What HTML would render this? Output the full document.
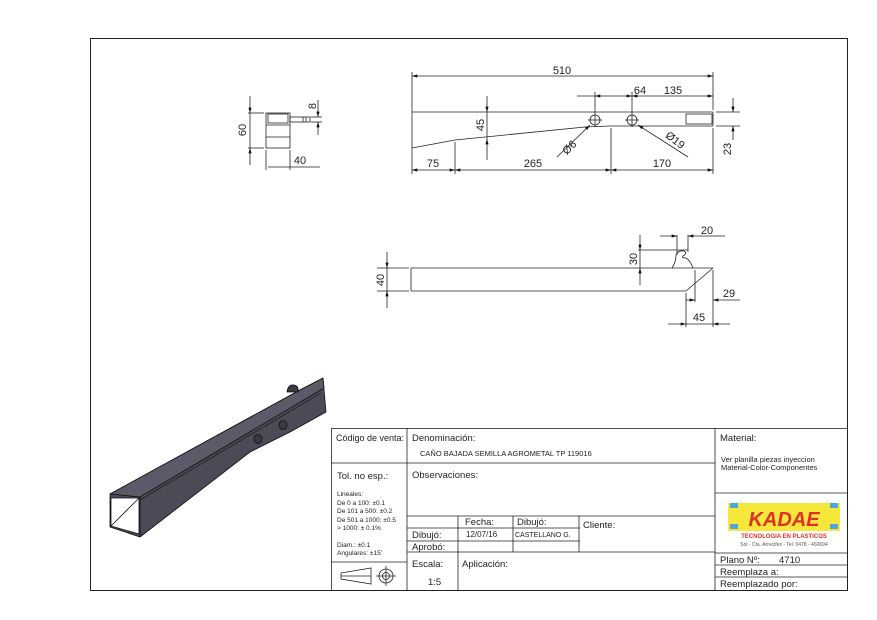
<!DOCTYPE html>
<html><head><meta charset="utf-8"><style>
body{margin:0;background:#fff}
svg{display:block}
text{font-family:"Liberation Sans",sans-serif;fill:#222}
</style></head><body>
<svg width="877" height="620" viewBox="0 0 877 620" xmlns="http://www.w3.org/2000/svg">
<defs>
<marker id="a" viewBox="0 0 10 6" refX="10" refY="3" markerWidth="7" markerHeight="4" orient="auto-start-reverse"><path d="M0,0L10,3L0,6z" fill="#111"/></marker>
</defs>
<rect x="0" y="0" width="877" height="620" fill="#fff"/>
<rect x="90.5" y="38.5" width="757" height="552" fill="none" stroke="#222" stroke-width="1"/>

<g stroke="#222" stroke-width="0.8" fill="none">
<rect x="266" y="113" width="24" height="35"/>
<rect x="268" y="114" width="20" height="9"/>
<line x1="266" y1="125" x2="290" y2="125"/><line x1="266" y1="137" x2="290" y2="137"/>
<rect x="290" y="117" width="20" height="5"/>
<line x1="303" y1="117" x2="303" y2="122"/><line x1="306" y1="117" x2="306" y2="122"/>
<line x1="248" y1="113" x2="264" y2="113"/><line x1="248" y1="148" x2="264" y2="148"/>
<line x1="250" y1="96" x2="250" y2="113" marker-end="url(#a)"/><line x1="250" y1="165" x2="250" y2="148" marker-end="url(#a)"/>
<line x1="250" y1="113" x2="250" y2="148"/>
<line x1="266" y1="150" x2="266" y2="170"/><line x1="290" y1="150" x2="290" y2="170"/>
<line x1="268" y1="167" x2="320" y2="167"/>
<line x1="311" y1="117" x2="322" y2="117"/><line x1="311" y1="122" x2="322" y2="122"/>
<line x1="318" y1="100" x2="318" y2="117" marker-end="url(#a)"/><line x1="318" y1="135" x2="318" y2="122" marker-end="url(#a)"/>

<line x1="412" y1="112" x2="713" y2="112"/>
<line x1="713" y1="112" x2="713" y2="126"/>
<polyline points="412,148 455,140 585,127 610,126 713,126"/>
<rect x="686" y="114" width="26" height="10"/>
<circle cx="595" cy="120" r="5"/><circle cx="632" cy="120" r="5"/>
<line x1="588" y1="120" x2="602" y2="120"/><line x1="595" y1="113" x2="595" y2="127"/>
<line x1="625" y1="120" x2="639" y2="120"/><line x1="632" y1="113" x2="632" y2="127"/>
<line x1="412" y1="72" x2="412" y2="174"/><line x1="713" y1="72" x2="713" y2="110"/><line x1="713" y1="128" x2="713" y2="174"/>
<line x1="412" y1="76" x2="713" y2="76" marker-start="url(#a)" marker-end="url(#a)"/>
<line x1="595" y1="92" x2="595" y2="113"/><line x1="632" y1="92" x2="632" y2="113"/>
<line x1="577" y1="96" x2="595" y2="96" /><line x1="595" y1="96" x2="632" y2="96" marker-start="url(#a)" marker-end="url(#a)"/>
<line x1="632" y1="96" x2="713" y2="96" marker-start="url(#a)" marker-end="url(#a)"/>
<line x1="487" y1="96" x2="487" y2="112" marker-end="url(#a)"/><line x1="487" y1="160" x2="487" y2="139" marker-end="url(#a)"/>
<line x1="487" y1="112" x2="487" y2="139"/>
<line x1="716" y1="112" x2="740" y2="112"/><line x1="716" y1="126" x2="740" y2="126"/>
<line x1="733" y1="98" x2="733" y2="112" marker-end="url(#a)"/><line x1="733" y1="140" x2="733" y2="126" marker-end="url(#a)"/>
<line x1="455" y1="142" x2="455" y2="174"/><line x1="611" y1="128" x2="611" y2="174"/>
<line x1="412" y1="170" x2="455" y2="170" marker-start="url(#a)" marker-end="url(#a)"/>
<line x1="455" y1="170" x2="611" y2="170" marker-start="url(#a)" marker-end="url(#a)"/>
<line x1="611" y1="170" x2="713" y2="170" marker-start="url(#a)" marker-end="url(#a)"/>
<line x1="557" y1="157" x2="590" y2="125" marker-end="url(#a)"/>
<line x1="688" y1="157" x2="638" y2="125" marker-end="url(#a)"/>

<line x1="411" y1="268" x2="713" y2="268"/>
<line x1="411" y1="268" x2="411" y2="291"/>
<line x1="411" y1="291" x2="686" y2="291"/>
<line x1="686" y1="291" x2="713" y2="268"/>
<path d="M672,268 Q676,262 676,255 Q678,250 684,251 Q688,253 683,256 Q681,258 686,258 Q690,260 693,268"/>
<line x1="377" y1="268" x2="409" y2="268"/><line x1="377" y1="291" x2="409" y2="291"/>
<line x1="387" y1="252" x2="387" y2="268" marker-end="url(#a)"/><line x1="387" y1="308" x2="387" y2="291" marker-end="url(#a)"/>
<line x1="387" y1="268" x2="387" y2="291"/>
<line x1="638" y1="250" x2="688" y2="250"/>
<line x1="640" y1="235" x2="640" y2="250" marker-end="url(#a)"/><line x1="640" y1="285" x2="640" y2="268" marker-end="url(#a)"/>
<line x1="640" y1="250" x2="640" y2="268"/>
<line x1="677" y1="235" x2="677" y2="255"/><line x1="688" y1="235" x2="688" y2="252"/>
<line x1="660" y1="236" x2="677" y2="236" marker-end="url(#a)"/><line x1="725" y1="236" x2="688" y2="236" marker-end="url(#a)"/>
<line x1="695" y1="270" x2="695" y2="302"/><line x1="713" y1="270" x2="713" y2="327"/><line x1="686" y1="293" x2="686" y2="327"/>
<line x1="686" y1="300" x2="695" y2="300" marker-end="url(#a)"/><line x1="740" y1="300" x2="713" y2="300" marker-end="url(#a)"/>
<line x1="668" y1="324" x2="686" y2="324" marker-end="url(#a)"/><line x1="730" y1="324" x2="713" y2="324" marker-end="url(#a)"/>
<line x1="686" y1="324" x2="713" y2="324"/>

<polygon points="341,573 371,568 371,584 341,579"/>
<line x1="341" y1="576" x2="371" y2="576"/>
<circle cx="386" cy="576" r="7"/><circle cx="386" cy="576" r="3.5"/>
<line x1="376" y1="576" x2="396" y2="576"/><line x1="386" y1="566" x2="386" y2="586"/>
</g>

<g font-size="11">
<text x="562" y="74" text-anchor="middle">510</text>
<text x="640" y="94" text-anchor="middle">64</text>
<text x="673" y="94" text-anchor="middle">135</text>
<text x="433" y="167" text-anchor="middle">75</text>
<text x="533" y="167" text-anchor="middle">265</text>
<text x="662" y="167" text-anchor="middle">170</text>
<text x="300" y="164" text-anchor="middle">40</text>
<text x="707" y="234" text-anchor="middle">20</text>
<text x="729" y="297" text-anchor="middle">29</text>
<text x="699" y="321" text-anchor="middle">45</text>
<text transform="translate(484,125) rotate(-90)" text-anchor="middle">45</text>
<text transform="translate(731,149) rotate(-90)" text-anchor="middle">23</text>
<text transform="translate(246,130) rotate(-90)" text-anchor="middle">60</text>
<text transform="translate(316,106) rotate(-90)" text-anchor="middle">8</text>
<text transform="translate(384,280) rotate(-90)" text-anchor="middle">40</text>
<text transform="translate(637,259) rotate(-90)" text-anchor="middle">30</text>
<text transform="translate(572,150) rotate(-45)" text-anchor="middle">Ø6</text>
<text transform="translate(673,143) rotate(38)" text-anchor="middle">Ø19</text>
</g>

<!-- 3D bar -->
<g stroke="#111" stroke-width="0.8" stroke-linejoin="round">
<polygon points="110,494 300,390 323,378 326,412 290,432 250,452 140,537 110,527" fill="#4b4b57"/>
<polygon points="110,494 300,390 323,378 324,388 140,497" fill="#5a5a68"/>
<line x1="140" y1="497" x2="140" y2="537"/>
<line x1="140" y1="500" x2="321" y2="393" stroke="#222"/>
<polygon points="111,498 139,498 139,534 111,526" fill="#fff"/>
<line x1="111" y1="526" x2="139" y2="498"/>
<ellipse cx="258" cy="439" rx="4" ry="4.5" fill="#3a3a44"/><ellipse cx="283" cy="425" rx="4" ry="4.5" fill="#3a3a44"/>
<path d="M287,392 q1,-8 7,-7 q5,1 4,7z" fill="#3a3a44"/>
</g>

<g stroke="#222" stroke-width="0.8" fill="none">
<rect x="331.5" y="428.5" width="516" height="162"/>
<line x1="407" y1="428" x2="407" y2="590"/>
<line x1="715" y1="428" x2="715" y2="590"/>
<line x1="331" y1="463" x2="715" y2="463"/>
<line x1="407" y1="516" x2="715" y2="516"/>
<line x1="407" y1="528" x2="580" y2="528"/>
<line x1="407" y1="541" x2="580" y2="541"/>
<line x1="407" y1="552" x2="715" y2="552"/>
<line x1="331" y1="562" x2="407" y2="562"/>
<line x1="458" y1="516" x2="458" y2="590"/>
<line x1="513" y1="516" x2="513" y2="552"/>
<line x1="579" y1="516" x2="579" y2="552"/>
<line x1="715" y1="493" x2="847" y2="493"/>
<line x1="715" y1="553" x2="847" y2="553"/>
<line x1="715" y1="565" x2="847" y2="565"/>
<line x1="715" y1="577" x2="847" y2="577"/>
</g>
<g font-size="9.5">
<text x="336" y="441" font-size="9">Código de venta:</text>
<text x="412" y="441">Denominación:</text>
<text x="420" y="456" font-size="7.5">CAÑO BAJADA SEMILLA AGROMETAL TP 119016</text>
<text x="720" y="441">Material:</text>
<text x="721" y="462" font-size="7.5">Ver planilla piezas inyeccion</text>
<text x="721" y="470" font-size="7.5">Material-Color-Componentes</text>
<text x="337" y="479">Tol. no esp.:</text>
<text x="412" y="478">Observaciones:</text>
<g font-size="6.5">
<text x="337" y="496">Lineales:</text>
<text x="337" y="505">De 0 a 100: ±0.1</text>
<text x="337" y="513">De 101 a 500: ±0.2</text>
<text x="337" y="522">De 501 a 1000: ±0.5</text>
<text x="337" y="530">&gt; 1000: ± 0.1%</text>
<text x="337" y="547">Diam.: ±0.1</text>
<text x="337" y="555">Angulares: ±15'</text>
</g>
<text x="465" y="525">Fecha:</text>
<text x="517" y="525">Dibujó:</text>
<text x="583" y="528">Cliente:</text>
<text x="412" y="538">Dibujó:</text>
<text x="466" y="537" font-size="8">12/07/16</text>
<text x="515" y="537" font-size="7">CASTELLANO G.</text>
<text x="412" y="550">Aprobó:</text>
<text x="412" y="567">Escala:</text>
<text x="428" y="585">1:5</text>
<text x="462" y="567">Aplicación:</text>
<text x="720" y="563">Plano Nº:</text>
<text x="779" y="563">4710</text>
<text x="720" y="575">Reemplaza a:</text>
<text x="720" y="587">Reemplazado por:</text>
</g>
<rect x="728" y="503" width="112" height="28" fill="#f5e83a"/>
<rect x="730" y="503" width="8" height="5" fill="#4da3e0"/><rect x="830" y="503" width="8" height="5" fill="#4da3e0"/>
<rect x="730" y="524" width="8" height="5" fill="#4da3e0"/><rect x="830" y="524" width="8" height="5" fill="#4da3e0"/>
<text x="784" y="526" font-size="20" font-weight="bold" font-style="italic" text-anchor="middle" style="fill:#e0302a">KADAE</text>
<text x="784" y="538" font-size="6" font-weight="bold" text-anchor="middle" style="fill:#e0302a">TECNOLOGIA EN PLASTICOS</text>
<text x="784" y="546" font-size="5" text-anchor="middle" style="fill:#555">Sol - Cta. Arrecifes - Tel. 0478 - 460694</text>
</svg>
</body></html>
